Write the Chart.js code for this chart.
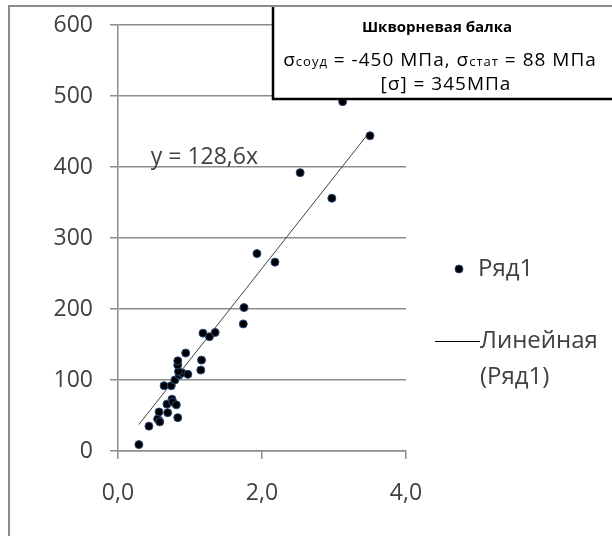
<!DOCTYPE html>
<html>
<head>
<meta charset="utf-8">
<script src="https://cdn.jsdelivr.net/npm/chart.js@4"></script>
<style>body{margin:0;background:#fff;}</style>
</head>
<body>
<canvas id="mycanvas" width="612" height="536"></canvas>
<script>
// ** Шкворневая балка - scatter with linear trend

var xVals = [0.29, 0.43, 0.57, 0.55, 0.58, 0.57, 0.69, 0.83, 0.68, 0.75, 0.76, 0.81,
	0.64, 0.74, 0.79, 0.85, 0.89, 0.97, 0.84, 0.83, 0.83, 0.94, 1.16, 1.15,
	1.18, 1.27, 1.35, 1.75, 1.74, 1.93, 2.18, 2.53, 2.97, 3.12, 3.50];
var yVals = [9, 35, 43, 45, 41, 55, 54, 47, 66, 73, 69, 65,
	92, 92, 100, 107, 110, 108, 112, 121, 127, 138, 128, 114,
	166, 161, 167, 202, 179, 278, 266, 392, 356, 492, 444];
var slope = 128.6;
var xTicks = [0, 2, 4];
var yTicks = [0, 100, 200, 300, 400, 500, 600];

var seriesName = 'Ряд1';
var trendName = ['Линейная', '(Ряд1)'];
var eqText = 'y = 128,6x';
var boxTitle = 'Шкворневая балка';

var FONT = "'Open Sans', 'Liberation Sans', sans-serif";
var TXT = '#404040';

var pts = [];
for (var i in xVals) {
	pts.push({x: xVals[i], y: yVals[i]});
}
var xMin = Math.min.apply(null, xVals);
var xMax = Math.max.apply(null, xVals);
var trend = [{x: xMin, y: slope * xMin}, {x: xMax, y: slope * xMax}];

// draws frame, equation, legend and the text box
var extras = {
	id: 'extras',
	afterDraw: function(chart) {
		var c = chart.ctx;
		var sx = chart.scales.x, sy = chart.scales.y;
		c.save();

		// outer frame
		c.strokeStyle = '#8c8c8c';
		c.lineWidth = 2;
		c.beginPath();
		c.moveTo(9, 536);
		c.lineTo(9, 6);
		c.lineTo(612, 6);
		c.stroke();

		// equation
		c.fillStyle = TXT;
		c.font = '23px ' + FONT;
		c.textAlign = 'center';
		c.textBaseline = 'middle';
		c.fillText(eqText, sx.getPixelForValue(1.2), sy.getPixelForValue(414));

		// legend
		c.textAlign = 'left';
		c.fillStyle = '#000';
		c.strokeStyle = '#2a4a7f';
		c.lineWidth = 1;
		c.beginPath();
		c.arc(459, 269, 4, 0, Math.PI * 2);
		c.fill();
		c.stroke();
		c.fillStyle = TXT;
		c.font = '24px ' + FONT;
		c.fillText(seriesName, 478, 269);
		c.strokeStyle = '#000';
		c.beginPath();
		c.moveTo(435, 341.5);
		c.lineTo(480, 341.5);
		c.stroke();
		c.fillText(trendName[0], 480, 341);
		c.fillText(trendName[1], 480, 377);

		// text box
		c.fillStyle = '#fff';
		c.fillRect(273, 7, 345, 92);
		c.strokeStyle = '#000';
		c.lineWidth = 2.5;
		c.beginPath();
		c.moveTo(273, 7);
		c.lineTo(273, 99);
		c.lineTo(612, 99);
		c.stroke();

		c.fillStyle = '#000';
		c.textAlign = 'center';
		c.font = 'bold 15px ' + FONT;
		c.fillText(boxTitle, 437, 28);

		c.letterSpacing = '1px';
		var parts = [
			['σ', 19], ['соуд', 13], [' = -450 МПа, ', 19], ['σ', 19], ['стат', 13], [' = 88 МПа', 19]
		];
		var w = 0;
		parts.forEach(function(p) {
			c.font = p[1] + 'px ' + FONT;
			w += c.measureText(p[0]).width;
		});
		var px = 440 - w / 2;
		c.textAlign = 'left';
		c.textBaseline = 'alphabetic';
		parts.forEach(function(p) {
			c.font = p[1] + 'px ' + FONT;
			c.fillText(p[0], px, 66);
			px += c.measureText(p[0]).width;
		});
		c.textAlign = 'center';
		c.textBaseline = 'middle';
		c.font = '19px ' + FONT;
		c.fillText('[σ] = 345МПа', 446, 85);

		c.restore();
	}
};

var ctx = document.getElementById('mycanvas');

var chart = new Chart(ctx, {
	type: 'scatter',
	data: {
		datasets: [{
			label: seriesName,
			data: pts,
			pointRadius: 4,
			pointHoverRadius: 4,
			backgroundColor: '#000',
			borderColor: '#2a4a7f',
			borderWidth: 1,
			order: 1
		}, {
			label: 'Линейная (Ряд1)',
			type: 'line',
			data: trend,
			showLine: true,
			borderColor: '#404040',
			borderWidth: 1,
			pointRadius: 0,
			fill: false,
			order: 2
		}]
	},
	options: {
		responsive: false,
		animation: false,
		layout: {
			padding: {left: 9, right: 206, top: 25, bottom: 0}
		},
		plugins: {
			legend: {display: false},
			tooltip: {enabled: false}
		},
		scales: {
			x: {
				type: 'linear',
				min: 0,
				max: 4,
				afterBuildTicks: function(s) {
					s.ticks = xTicks.map(function(v) { return {value: v}; });
				},
				afterFit: function(s) {
					s.height = 85;
					s.paddingLeft = 0;
					s.paddingRight = 0;
				},
				grid: {
					drawOnChartArea: false,
					color: '#8c8c8c',
					lineWidth: 1.5,
					tickLength: 8
				},
				border: {color: '#8c8c8c', width: 1.5},
				ticks: {
					padding: 21,
					color: TXT,
					font: {family: FONT, size: 23},
					callback: function(v) { return v.toFixed(1).replace('.', ','); }
				}
			},
			y: {
				min: 0,
				max: 600,
				afterBuildTicks: function(s) {
					s.ticks = yTicks.map(function(v) { return {value: v}; });
				},
				afterFit: function(s) {
					s.width = 109;
					s.paddingTop = 0;
					s.paddingBottom = 0;
				},
				grid: {
					color: '#8c8c8c',
					lineWidth: 1.5,
					tickLength: 8
				},
				border: {color: '#8c8c8c', width: 1.5},
				ticks: {
					padding: 17,
					color: TXT,
					font: {family: FONT, size: 23}
				}
			}
		}
	},
	plugins: [extras]
});
</script>
</body>
</html>
